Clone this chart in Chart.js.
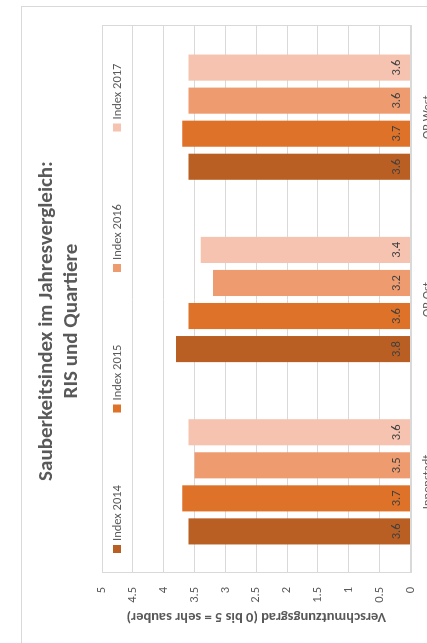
<!DOCTYPE html>
<html><head><meta charset="utf-8">
<script src="https://cdn.jsdelivr.net/npm/chart.js@4.4.1/dist/chart.umd.min.js"></script>
<style>
html,body{margin:0;padding:0;background:#fff;overflow:hidden;width:427px;height:643px;}
#wrap{position:absolute;left:0;top:0;width:643px;height:460px;transform-origin:0 0;transform:translateY(643px) rotate(-90deg);}
</style></head><body>
<div id="wrap"><canvas id="c" width="643" height="460"></canvas></div>
<script>
const categories = ['Innenstadt', 'OR Ost', 'OR West'];
const seriesNames = ['Index 2014', 'Index 2015', 'Index 2016', 'Index 2017'];
const index2014 = [3.6, 3.8, 3.6];
const index2015 = [3.7, 3.6, 3.7];
const index2016 = [3.5, 3.2, 3.6];
const index2017 = [3.6, 3.4, 3.6];
const yTickLabels = ['0', '0.5', '1', '1.5', '2', '2.5', '3', '3.5', '4', '4.5', '5'];
const titleLines = ['Sauberkeitsindex im Jahresvergleich:', 'RIS und Quartiere'];
const yAxisTitle = 'Verschmutzungsgrad (0 bis 5 = sehr sauber)';

const colors = ['#BA5F24', '#DE7229', '#EF9B70', '#F5C3B0'];
const FONT = 'Carlito, Lato, "Open Sans", sans-serif';
const TEXT = '#595959';
const GRID = '#d9d9d9';
const W = 643, H = 460;

const deco = {
  id: 'deco',
  beforeDraw(chart) {
    const ctx = chart.ctx;
    ctx.save();
    ctx.fillStyle = '#fff';
    ctx.fillRect(0, 0, W, H);
    ctx.strokeStyle = GRID;
    ctx.lineWidth = 1;
    ctx.strokeRect(-10, 21.5, 646.5, 500);
    ctx.restore();
  },
  beforeDatasetsDraw(chart) {
    const a = chart.chartArea, ctx = chart.ctx;
    ctx.save();
    ctx.strokeStyle = GRID;
    ctx.lineWidth = 1;
    ctx.strokeRect(Math.round(a.left) + 0.5, Math.round(a.top) + 0.5, Math.round(a.right - a.left), Math.round(a.bottom - a.top));
    ctx.restore();
  },
  afterDatasetsDraw(chart) {
    const ctx = chart.ctx;
    ctx.save();
    ctx.font = '12.5px ' + FONT;
    ctx.fillStyle = '#404040';
    ctx.textAlign = 'center';
    ctx.textBaseline = 'middle';
    chart.data.datasets.forEach((ds, i) => {
      chart.getDatasetMeta(i).data.forEach((bar, j) => {
        ctx.fillText(String(ds.data[j]), bar.x, bar.base - 13.5);
      });
    });
    ctx.restore();
  },
  afterDraw(chart) {
    const ctx = chart.ctx, a = chart.chartArea;
    ctx.save();
    // title
    ctx.fillStyle = TEXT;
    ctx.font = 'bold 21px ' + FONT;
    ctx.textAlign = 'center';
    ctx.textBaseline = 'middle';
    ctx.fillText(titleLines[0], 322, 47);
    ctx.fillText(titleLines[1], 322, 72);
    // legend
    ctx.font = '12.5px ' + FONT;
    ctx.textAlign = 'left';
    const step = 140.5;
    const x0 = a.left + 20;
    seriesNames.forEach((n, i) => {
      const x = x0 + i * step;
      ctx.fillStyle = colors[i];
      ctx.fillRect(x, 113, 8, 8);
      ctx.fillStyle = TEXT;
      ctx.fillText(n, x + 12, 117.5);
    });
    ctx.restore();
  }
};

new Chart(document.getElementById('c'), {
  type: 'bar',
  data: {
    labels: categories,
    datasets: [index2014, index2015, index2016, index2017].map((d, i) => ({
      label: seriesNames[i],
      data: d,
      backgroundColor: colors[i],
      borderWidth: 0,
      categoryPercentage: 0.725,
      barPercentage: 0.79
    }))
  },
  options: {
    responsive: false,
    animation: false,
    devicePixelRatio: 1,
    layout: { padding: { top: 102, right: 26, left: 0, bottom: 0 } },
    plugins: { legend: { display: false }, title: { display: false }, tooltip: { enabled: false } },
    scales: {
      x: {
        grid: { display: false, drawTicks: false },
        border: { display: false },
        ticks: { color: TEXT, font: { family: FONT, size: 12.5 }, padding: 10, maxRotation: 0, autoSkip: false },
        afterFit(s) { s.height = H - 410.5; }
      },
      y: {
        min: 0, max: 5,
        grid: { color: GRID, drawTicks: false },
        border: { display: false },
        ticks: { stepSize: 0.5, color: TEXT, font: { family: FONT, size: 12.5 }, padding: 14,
                 callback: (v, i) => yTickLabels[i] },
        title: { display: true, text: yAxisTitle, color: TEXT, font: { family: FONT, size: 14.5, weight: 'bold' }, padding: { top: 18, bottom: 0 } },
        afterFit(s) { s.width = 70; }
      }
    }
  },
  plugins: [deco]
});
</script>
</body></html>
